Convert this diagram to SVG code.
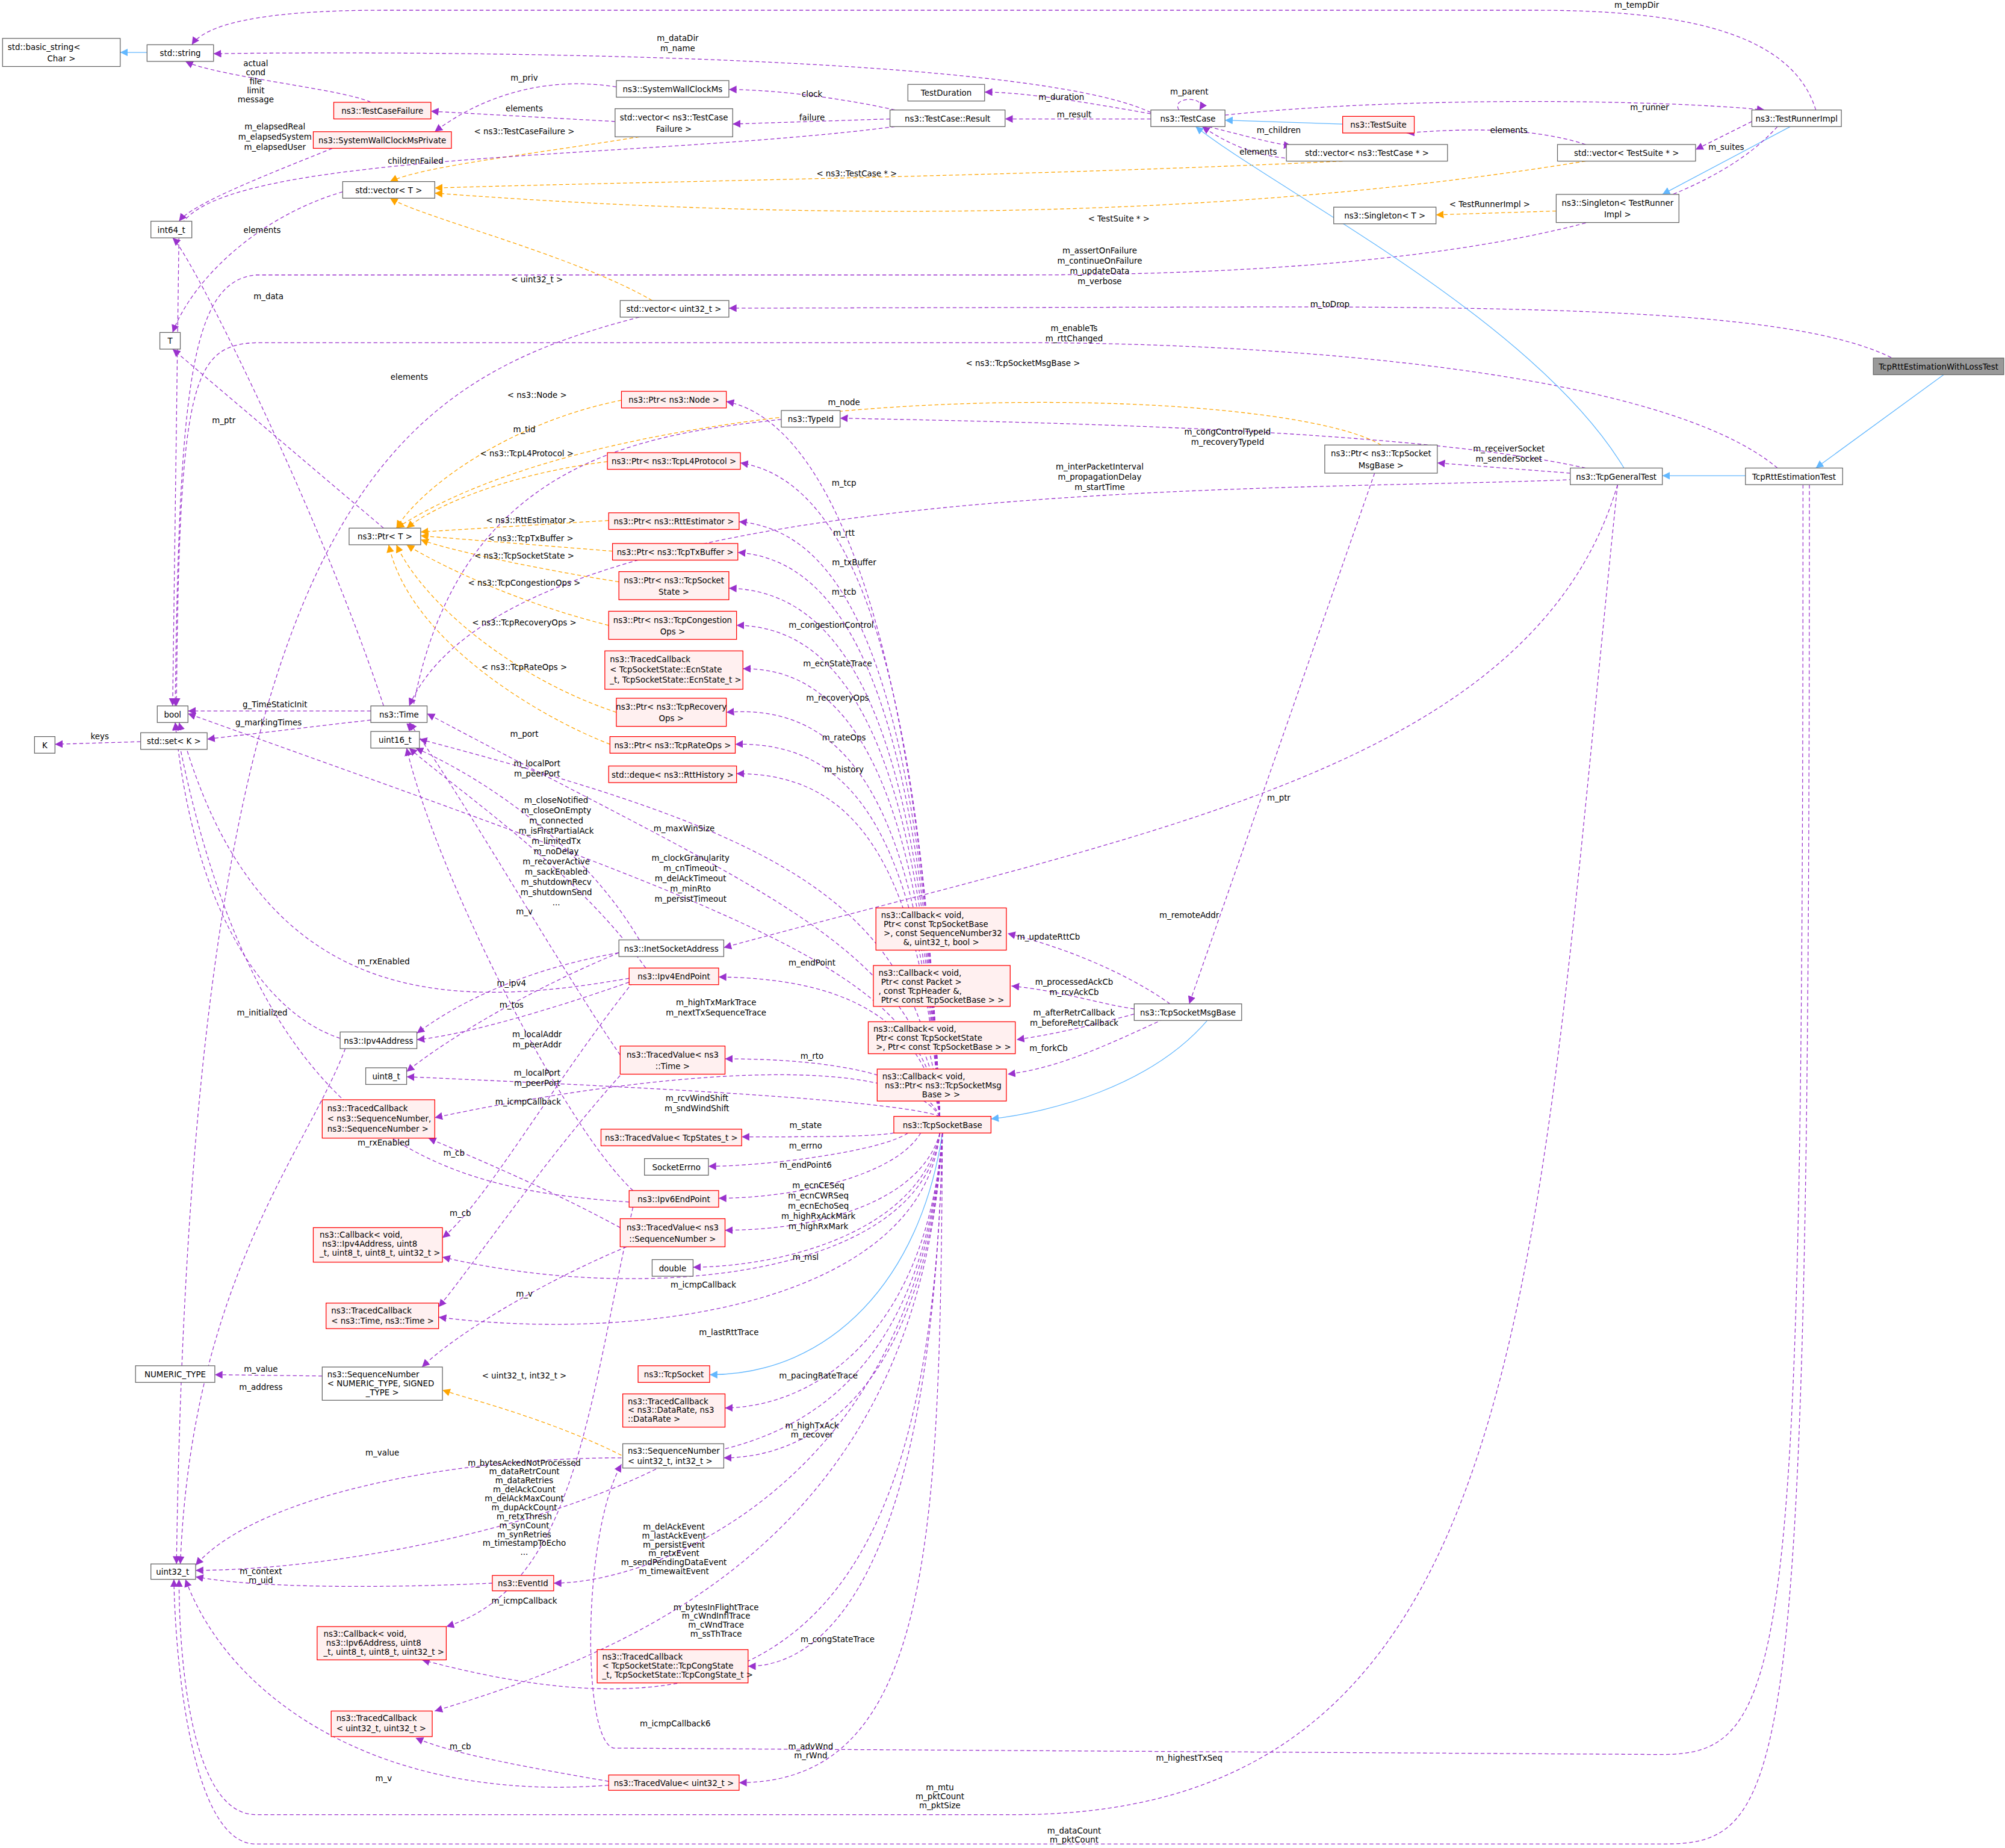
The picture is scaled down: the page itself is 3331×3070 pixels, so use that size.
<svg xmlns="http://www.w3.org/2000/svg" width="3331" height="3070" viewBox="0 0 3331 3070">
<style>
text{font-family:"DejaVu Sans","Liberation Sans",sans-serif;font-size:6.3px;fill:#000}
.n rect{fill:#fff;stroke:#666;stroke-width:0.6}
.r rect{fill:#fff0f0;stroke:#f00;stroke-width:0.6}
.g rect{fill:#999;stroke:#666;stroke-width:0.6}
.c{text-anchor:middle}
.e path{fill:none;stroke-width:0.6}
.p{stroke:#9a32cd;stroke-dasharray:3,2;marker-end:url(#ap)}
.o{stroke:#ffa500;stroke-dasharray:3,2;marker-end:url(#ao)}
.b{stroke:#63b8ff;marker-end:url(#ab)}
</style>
<defs>
<marker id="ap" markerUnits="userSpaceOnUse" markerWidth="8" markerHeight="8" refX="6" refY="3" orient="auto"><path d="M0,0L6,3L0,6z" fill="#9a32cd"/></marker>
<marker id="ao" markerUnits="userSpaceOnUse" markerWidth="8" markerHeight="8" refX="6" refY="3" orient="auto"><path d="M0,0L6,3L0,6z" fill="#ffa500"/></marker>
<marker id="ab" markerUnits="userSpaceOnUse" markerWidth="8" markerHeight="8" refX="6" refY="3" orient="auto"><path d="M0,0L6,3L0,6z" fill="#63b8ff"/></marker>
</defs>
<rect width="3331" height="3070" fill="#fff"/>
<g transform="scale(2.1244)">
<g id="edges" class="e">
<path class="b" d="M115,41L94,41"/>
<path class="p" d="M1420,86C1400,20 1300,8 1200,8L300,8C200,8 160,20 150,35"/>
<path class="p" d="M900,88C800,40 300,40 167,42"/>
<path class="p" d="M290,80C270,70 170,60 145,48"/>
<path class="p" d="M481,95L337,87"/>
<path class="p" d="M482,68C420,58 370,80 340,103"/>
<path class="p" d="M700,86C650,75 600,70 570,70"/>
<path class="p" d="M696,93L573,97"/>
<path class="p" d="M900,89C850,80 800,72 770,72"/>
<path class="p" d="M900,93L786,93"/>
<path class="p" d="M922,86C915,75 945,75 938,86"/>
<path class="p" d="M958,90C1100,75 1300,78 1380,86"/>
<path class="b" d="M1050,97L958,94"/>
<path class="p" d="M945,99C980,108 1000,113 1010,114"/>
<path class="p" d="M1010,124C980,122 960,112 940,99"/>
<path class="p" d="M1240,113C1200,100 1150,100 1100,104"/>
<path class="p" d="M1370,95L1326,117"/>
<path class="b" d="M1400,99L1300,152"/>
<path class="o" d="M1217,165L1123,168"/>
<path class="o" d="M500,107C420,120 330,130 305,142"/>
<path class="o" d="M1050,126C800,138 500,142 340,147"/>
<path class="o" d="M1240,126C1000,165 700,178 340,151"/>
<path class="o" d="M510,235C450,200 330,170 305,155"/>
<path class="p" d="M700,99C500,125 160,118 140,180L135,552"/>
<path class="p" d="M268,150C200,170 150,220 135,260"/>
<path class="p" d="M260,116C200,140 150,160 140,173"/>
<path class="p" d="M1390,99C1300,200 1000,215 800,215L200,215C150,220 140,300 137,552"/>
<path class="p" d="M1500,293C1450,250 1300,240 1000,240L570,241"/>
<path class="p" d="M500,248C300,300 150,400 138,1223"/>
<path class="b" d="M1520,293L1420,366"/>
<path class="p" d="M1390,366C1300,290 1000,268 800,268L200,268C150,270 140,300 138,552"/>
<path class="b" d="M1365,372L1300,372"/>
<path class="p" d="M1240,366C1100,335 800,330 657,327"/>
<path class="p" d="M1228,370L1124,362"/>
<path class="b" d="M1270,366C1200,250 1000,150 935,99"/>
<path class="p" d="M1230,375C1000,385 400,370 320,552"/>
<path class="p" d="M1265,379C1200,600 900,650 566,741"/>
<path class="p" d="M1265,379C1200,1000 1200,1415 800,1419L200,1419C150,1419 140,1300 140,1235"/>
<path class="p" d="M1410,379C1410,1300 1400,1372 1300,1372L480,1367C455,1362 455,1200 486,1145"/>
<path class="p" d="M1415,379C1415,1400 1400,1442 1300,1442L200,1442C150,1442 137,1300 136,1235"/>
<path class="o" d="M1080,348C1000,300 500,290 310,413"/>
<path class="p" d="M1075,370L930,785"/>
<path class="p" d="M300,413L135,273"/>
<path class="o" d="M486,313C400,330 330,380 310,413"/>
<path class="o" d="M475,361C400,370 340,395 318,413"/>
<path class="o" d="M476,407L329,416"/>
<path class="o" d="M479,431L329,419"/>
<path class="o" d="M484,455C420,445 350,430 329,422"/>
<path class="o" d="M476,489C400,470 340,440 318,426"/>
<path class="o" d="M482,557C400,530 330,470 310,426"/>
<path class="o" d="M477,582C420,560 320,500 304,426"/>
<path class="p" d="M611,328C500,340 350,360 320,572"/>
<path class="p" d="M300,552C250,400 150,200 135,186"/>
<path class="p" d="M290,556L147,556"/>
<path class="p" d="M290,563L162,578"/>
<path class="p" d="M110,580L43,582"/>
<path class="p" d="M735,873C720,500 650,330 568,314"/>
<path class="p" d="M735,873C720,500 660,375 579,362"/>
<path class="p" d="M735,873C720,520 660,415 578,408"/>
<path class="p" d="M735,873C720,540 660,438 577,432"/>
<path class="p" d="M735,873C720,560 660,462 570,460"/>
<path class="p" d="M735,873C720,580 660,490 576,489"/>
<path class="p" d="M735,873C720,600 660,522 581,523"/>
<path class="p" d="M735,873C720,620 660,550 568,557"/>
<path class="p" d="M735,873C720,640 660,580 575,582"/>
<path class="p" d="M735,873C720,660 660,605 576,605"/>
<path class="p" d="M735,873C720,700 600,650 328,578"/>
<path class="p" d="M735,873C720,740 600,700 334,558"/>
<path class="p" d="M735,873C720,760 600,720 147,558"/>
<path class="p" d="M500,735C450,650 360,600 325,585"/>
<path class="p" d="M505,757C450,680 360,620 320,585"/>
<path class="p" d="M485,825C440,760 360,620 320,565"/>
<path class="p" d="M492,765C350,790 200,790 140,565"/>
<path class="p" d="M484,745C400,760 350,790 326,808"/>
<path class="p" d="M484,745C400,780 340,820 318,838"/>
<path class="p" d="M492,768C430,790 360,810 326,813"/>
<path class="p" d="M266,812C200,790 150,700 137,565"/>
<path class="p" d="M270,820C240,900 150,1000 141,1223"/>
<path class="p" d="M495,931C440,880 340,680 318,585"/>
<path class="p" d="M495,768C430,850 380,940 346,968"/>
<path class="p" d="M735,873C720,790 650,765 562,764"/>
<path class="p" d="M735,873C700,820 500,840 340,874"/>
<path class="p" d="M735,873C720,840 650,828 567,828"/>
<path class="p" d="M735,873C700,860 500,850 318,842"/>
<path class="p" d="M699,886C680,889 640,889 580,889"/>
<path class="p" d="M710,886C690,900 600,912 554,912"/>
<path class="p" d="M720,886C700,920 620,937 562,937"/>
<path class="p" d="M492,940C350,930 200,900 137,565"/>
<path class="p" d="M485,960C430,930 370,905 335,890"/>
<path class="p" d="M495,830C430,900 370,990 343,1022"/>
<path class="p" d="M735,886C720,940 640,962 567,962"/>
<path class="p" d="M735,886C720,960 620,990 542,991"/>
<path class="p" d="M490,975C430,1000 360,1040 330,1069"/>
<path class="p" d="M735,886C720,1000 500,1020 346,983"/>
<path class="p" d="M735,886C720,1020 500,1050 343,1030"/>
<path class="b" d="M737,886C720,1000 650,1075 555,1075"/>
<path class="p" d="M737,886C725,1040 640,1100 567,1101"/>
<path class="p" d="M252,1076L168,1075"/>
<path class="o" d="M486,1138C430,1110 370,1095 346,1087"/>
<path class="p" d="M737,886C725,1080 640,1140 566,1140"/>
<path class="p" d="M486,1140C350,1140 200,1170 153,1224"/>
<path class="p" d="M737,886C720,1100 600,1130 530,1140C420,1200 250,1228 153,1228"/>
<path class="p" d="M385,1238C300,1242 200,1242 153,1233"/>
<path class="p" d="M737,886C720,1150 520,1238 433,1238"/>
<path class="p" d="M495,944C460,1100 450,1240 349,1272"/>
<path class="p" d="M737,886C720,1200 500,1290 340,1338"/>
<path class="p" d="M737,886C730,1220 650,1303 585,1303"/>
<path class="p" d="M737,886C730,1280 600,1370 330,1298"/>
<path class="p" d="M476,1393C400,1380 350,1370 325,1359"/>
<path class="p" d="M476,1396C300,1410 180,1330 145,1235"/>
<path class="p" d="M737,886C735,1200 730,1394 578,1394"/>
<path class="b" d="M945,797C900,850 820,870 775,875"/>
<path class="p" d="M915,785C880,760 830,740 788,730"/>
<path class="p" d="M887,789C860,785 830,775 791,771"/>
<path class="p" d="M887,793C860,800 830,808 795,813"/>
<path class="p" d="M910,797C870,815 830,835 788,840"/>
</g>
<g id="labels">
<text class="c" x="1280" y="6">m_tempDir</text>
<text class="c" x="530" y="32">m_dataDir</text><text class="c" x="530" y="40">m_name</text>
<text class="c" x="200" y="52">actual</text><text class="c" x="200" y="59">cond</text><text class="c" x="200" y="66">file</text><text class="c" x="200" y="73">limit</text><text class="c" x="200" y="80">message</text>
<text class="c" x="410" y="87">elements</text>
<text class="c" x="410" y="63">m_priv</text>
<text class="c" x="635" y="76">clock</text>
<text class="c" x="635" y="94">failure</text>
<text class="c" x="830" y="78">m_duration</text>
<text class="c" x="840" y="92">m_result</text>
<text class="c" x="930" y="74">m_parent</text>
<text class="c" x="1290" y="86">m_runner</text>
<text class="c" x="1000" y="104">m_children</text>
<text class="c" x="984" y="121">elements</text>
<text class="c" x="1180" y="104">elements</text>
<text class="c" x="1350" y="117">m_suites</text>
<text class="c" x="1165" y="162">&lt; TestRunnerImpl &gt;</text>
<text class="c" x="410" y="105">&lt; ns3::TestCaseFailure &gt;</text>
<text class="c" x="670" y="138">&lt; ns3::TestCase * &gt;</text>
<text class="c" x="875" y="173">&lt; TestSuite * &gt;</text>
<text class="c" x="420" y="221">&lt; uint32_t &gt;</text>
<text class="c" x="325" y="128">childrenFailed</text>
<text class="c" x="205" y="182">elements</text>
<text class="c" x="215" y="101">m_elapsedReal</text><text class="c" x="215" y="109">m_elapsedSystem</text><text class="c" x="215" y="117">m_elapsedUser</text>
<text class="c" x="860" y="198">m_assertOnFailure</text><text class="c" x="860" y="206">m_continueOnFailure</text><text class="c" x="860" y="214">m_updateData</text><text class="c" x="860" y="222">m_verbose</text>
<text class="c" x="1040" y="240">m_toDrop</text>
<text class="c" x="320" y="297">elements</text>
<text class="c" x="840" y="259">m_enableTs</text><text class="c" x="840" y="267">m_rttChanged</text>
<text class="c" x="960" y="340">m_congControlTypeId</text><text class="c" x="960" y="348">m_recoveryTypeId</text>
<text class="c" x="1180" y="353">m_receiverSocket</text><text class="c" x="1180" y="361">m_senderSocket</text>
<text class="c" x="860" y="367">m_interPacketInterval</text><text class="c" x="860" y="375">m_propagationDelay</text><text class="c" x="860" y="383">m_startTime</text>
<text class="c" x="930" y="718">m_remoteAddr</text>
<text class="c" x="735" y="1400">m_mtu</text><text class="c" x="735" y="1407">m_pktCount</text><text class="c" x="735" y="1414">m_pktSize</text>
<text class="c" x="930" y="1377">m_highestTxSeq</text>
<text class="c" x="840" y="1434">m_dataCount</text><text class="c" x="840" y="1441">m_pktCount</text>
<text class="c" x="800" y="286">&lt; ns3::TcpSocketMsgBase &gt;</text>
<text class="c" x="1000" y="626">m_ptr</text>
<text class="c" x="175" y="331">m_ptr</text>
<text class="c" x="420" y="311">&lt; ns3::Node &gt;</text>
<text class="c" x="412" y="357">&lt; ns3::TcpL4Protocol &gt;</text>
<text class="c" x="415" y="409">&lt; ns3::RttEstimator &gt;</text>
<text class="c" x="415" y="423">&lt; ns3::TcpTxBuffer &gt;</text>
<text class="c" x="410" y="437">&lt; ns3::TcpSocketState &gt;</text>
<text class="c" x="410" y="458">&lt; ns3::TcpCongestionOps &gt;</text>
<text class="c" x="410" y="489">&lt; ns3::TcpRecoveryOps &gt;</text>
<text class="c" x="410" y="524">&lt; ns3::TcpRateOps &gt;</text>
<text class="c" x="410" y="338">m_tid</text>
<text class="c" x="210" y="234">m_data</text>
<text class="c" x="215" y="553">g_TimeStaticInit</text>
<text class="c" x="210" y="567">g_markingTimes</text>
<text class="c" x="78" y="578">keys</text>
<text class="c" x="660" y="317">m_node</text>
<text class="c" x="660" y="380">m_tcp</text>
<text class="c" x="660" y="419">m_rtt</text>
<text class="c" x="668" y="442">m_txBuffer</text>
<text class="c" x="660" y="465">m_tcb</text>
<text class="c" x="650" y="491">m_congestionControl</text>
<text class="c" x="655" y="521">m_ecnStateTrace</text>
<text class="c" x="655" y="548">m_recoveryOps</text>
<text class="c" x="660" y="579">m_rateOps</text>
<text class="c" x="660" y="604">m_history</text>
<text class="c" x="535" y="650">m_maxWinSize</text>
<text class="c" x="410" y="576">m_port</text>
<text class="c" x="420" y="599">m_localPort</text><text class="c" x="420" y="607">m_peerPort</text>
<text class="c" x="540" y="673">m_clockGranularity</text><text class="c" x="540" y="681">m_cnTimeout</text><text class="c" x="540" y="689">m_delAckTimeout</text><text class="c" x="540" y="697">m_minRto</text><text class="c" x="540" y="705">m_persistTimeout</text>
<text class="c" x="435" y="628">m_closeNotified</text><text class="c" x="435" y="636">m_closeOnEmpty</text><text class="c" x="435" y="644">m_connected</text><text class="c" x="435" y="652">m_isFirstPartialAck</text><text class="c" x="435" y="660">m_limitedTx</text><text class="c" x="435" y="668">m_noDelay</text><text class="c" x="435" y="676">m_recoverActive</text><text class="c" x="435" y="684">m_sackEnabled</text><text class="c" x="435" y="692">m_shutdownRecv</text><text class="c" x="435" y="700">m_shutdownSend</text><text class="c" x="435" y="708">...</text>
<text class="c" x="410" y="715">m_v</text>
<text class="c" x="300" y="754">m_rxEnabled</text>
<text class="c" x="400" y="771">m_ipv4</text>
<text class="c" x="400" y="788">m_tos</text>
<text class="c" x="420" y="811">m_localAddr</text><text class="c" x="420" y="819">m_peerAddr</text>
<text class="c" x="205" y="794">m_initialized</text>
<text class="c" x="204" y="1087">m_address</text>
<text class="c" x="420" y="841">m_localPort</text><text class="c" x="420" y="849">m_peerPort</text>
<text class="c" x="413" y="864">m_icmpCallback</text>
<text class="c" x="635" y="755">m_endPoint</text>
<text class="c" x="560" y="786">m_highTxMarkTrace</text><text class="c" x="560" y="794">m_nextTxSequenceTrace</text>
<text class="c" x="635" y="828">m_rto</text>
<text class="c" x="545" y="861">m_rcvWindShift</text><text class="c" x="545" y="869">m_sndWindShift</text>
<text class="c" x="630" y="882">m_state</text>
<text class="c" x="630" y="898">m_errno</text>
<text class="c" x="630" y="913">m_endPoint6</text>
<text class="c" x="300" y="896">m_rxEnabled</text>
<text class="c" x="355" y="904">m_cb</text>
<text class="c" x="360" y="951">m_cb</text>
<text class="c" x="640" y="929">m_ecnCESeq</text><text class="c" x="640" y="937">m_ecnCWRSeq</text><text class="c" x="640" y="945">m_ecnEchoSeq</text><text class="c" x="640" y="953">m_highRxAckMark</text><text class="c" x="640" y="961">m_highRxMark</text>
<text class="c" x="630" y="985">m_msl</text>
<text class="c" x="410" y="1014">m_v</text>
<text class="c" x="550" y="1007">m_icmpCallback</text>
<text class="c" x="570" y="1044">m_lastRttTrace</text>
<text class="c" x="640" y="1078">m_pacingRateTrace</text>
<text class="c" x="204" y="1073">m_value</text>
<text class="c" x="410" y="1078">&lt; uint32_t, int32_t &gt;</text>
<text class="c" x="635" y="1117">m_highTxAck</text><text class="c" x="635" y="1124">m_recover</text>
<text class="c" x="299" y="1138">m_value</text>
<text class="c" x="410" y="1146">m_bytesAckedNotProcessed</text><text class="c" x="410" y="1153">m_dataRetrCount</text><text class="c" x="410" y="1160">m_dataRetries</text><text class="c" x="410" y="1167">m_delAckCount</text><text class="c" x="410" y="1174">m_delAckMaxCount</text><text class="c" x="410" y="1181">m_dupAckCount</text><text class="c" x="410" y="1188">m_retxThresh</text><text class="c" x="410" y="1195">m_synCount</text><text class="c" x="410" y="1202">m_synRetries</text><text class="c" x="410" y="1209">m_timestampToEcho</text><text class="c" x="410" y="1216">...</text>
<text class="c" x="204" y="1231">m_context</text><text class="c" x="204" y="1238">m_uid</text>
<text class="c" x="527" y="1196">m_delAckEvent</text><text class="c" x="527" y="1203">m_lastAckEvent</text><text class="c" x="527" y="1210">m_persistEvent</text><text class="c" x="527" y="1217">m_retxEvent</text><text class="c" x="527" y="1224">m_sendPendingDataEvent</text><text class="c" x="527" y="1231">m_timewaitEvent</text>
<text class="c" x="410" y="1254">m_icmpCallback</text>
<text class="c" x="560" y="1259">m_bytesInFlightTrace</text><text class="c" x="560" y="1266">m_cWndInflTrace</text><text class="c" x="560" y="1273">m_cWndTrace</text><text class="c" x="560" y="1280">m_ssThTrace</text>
<text class="c" x="655" y="1284">m_congStateTrace</text>
<text class="c" x="528" y="1350">m_icmpCallback6</text>
<text class="c" x="360" y="1368">m_cb</text>
<text class="c" x="300" y="1393">m_v</text>
<text class="c" x="634" y="1368">m_advWnd</text><text class="c" x="634" y="1375">m_rWnd</text>
<text class="c" x="820" y="735">m_updateRttCb</text>
<text class="c" x="840" y="770">m_processedAckCb</text><text class="c" x="840" y="778">m_rcvAckCb</text>
<text class="c" x="840" y="794">m_afterRetrCallback</text><text class="c" x="840" y="802">m_beforeRetrCallback</text>
<text class="c" x="820" y="822">m_forkCb</text>
</g>
<g id="n1" class="n"><rect x="2" y="30" width="92" height="22"/><text x="6" y="39">std::basic_string&lt;</text><text class="c" x="48" y="48">Char &gt;</text></g>
<g id="n2" class="n"><rect x="115" y="35" width="52" height="13"/><text class="c" x="141" y="44">std::string</text></g>
<g id="n3" class="n"><rect x="710" y="66" width="60" height="13"/><text class="c" x="740" y="75">TestDuration</text></g>
<g id="n4" class="n"><rect x="482" y="63" width="88" height="13"/><text class="c" x="526" y="72">ns3::SystemWallClockMs</text></g>
<g id="n5" class="r"><rect x="261" y="80" width="76" height="13"/><text class="c" x="299" y="89">ns3::TestCaseFailure</text></g>
<g id="n6" class="n"><rect x="481" y="85" width="92" height="22"/><text class="c" x="527" y="94">std::vector&lt; ns3::TestCase</text><text class="c" x="527" y="103">Failure &gt;</text></g>
<g id="n7" class="n"><rect x="696" y="86" width="90" height="13"/><text class="c" x="741" y="95">ns3::TestCase::Result</text></g>
<g id="n8" class="n"><rect x="900" y="86" width="58" height="13"/><text class="c" x="929" y="95">ns3::TestCase</text></g>
<g id="n9" class="r"><rect x="1050" y="91" width="56" height="13"/><text class="c" x="1078" y="100">ns3::TestSuite</text></g>
<g id="n10" class="n"><rect x="1370" y="86" width="70" height="13"/><text class="c" x="1405" y="95">ns3::TestRunnerImpl</text></g>
<g id="n11" class="r"><rect x="245" y="103" width="108" height="13"/><text class="c" x="299" y="112">ns3::SystemWallClockMsPrivate</text></g>
<g id="n12" class="n"><rect x="1006" y="113" width="126" height="13"/><text class="c" x="1069" y="122">std::vector&lt; ns3::TestCase * &gt;</text></g>
<g id="n13" class="n"><rect x="1218" y="113" width="108" height="13"/><text class="c" x="1272" y="122">std::vector&lt; TestSuite * &gt;</text></g>
<g id="n14" class="n"><rect x="118" y="173" width="32" height="13"/><text class="c" x="134" y="182">int64_t</text></g>
<g id="n15" class="n"><rect x="268" y="142" width="72" height="13"/><text class="c" x="304" y="151">std::vector&lt; T &gt;</text></g>
<g id="n16" class="n"><rect x="1043" y="162" width="80" height="13"/><text class="c" x="1083" y="171">ns3::Singleton&lt; T &gt;</text></g>
<g id="n17" class="n"><rect x="1217" y="152" width="96" height="22"/><text class="c" x="1265" y="161">ns3::Singleton&lt; TestRunner</text><text class="c" x="1265" y="170">Impl &gt;</text></g>
<g id="n18" class="n"><rect x="485" y="235" width="85" height="13"/><text class="c" x="527" y="244">std::vector&lt; uint32_t &gt;</text></g>
<g id="n19" class="n"><rect x="125" y="260" width="16" height="13"/><text class="c" x="133" y="269">T</text></g>
<g id="n20" class="g"><rect x="1465" y="280" width="102" height="13"/><text class="c" x="1516" y="289">TcpRttEstimationWithLossTest</text></g>
<g id="n21" class="r"><rect x="486" y="306" width="82" height="13"/><text class="c" x="527" y="315">ns3::Ptr&lt; ns3::Node &gt;</text></g>
<g id="n22" class="n"><rect x="611" y="321" width="46" height="13"/><text class="c" x="634" y="330">ns3::TypeId</text></g>
<g id="n23" class="n"><rect x="1036" y="348" width="88" height="22"/><text class="c" x="1080" y="357">ns3::Ptr&lt; ns3::TcpSocket</text><text class="c" x="1080" y="366">MsgBase &gt;</text></g>
<g id="n24" class="n"><rect x="1228" y="366" width="72" height="13"/><text class="c" x="1264" y="375">ns3::TcpGeneralTest</text></g>
<g id="n25" class="n"><rect x="1365" y="366" width="76" height="13"/><text class="c" x="1403" y="375">TcpRttEstimationTest</text></g>
<g id="n26" class="r"><rect x="475" y="354" width="104" height="13"/><text class="c" x="527" y="363">ns3::Ptr&lt; ns3::TcpL4Protocol &gt;</text></g>
<g id="n27" class="n"><rect x="273" y="413" width="56" height="13"/><text class="c" x="301" y="422">ns3::Ptr&lt; T &gt;</text></g>
<g id="n28" class="r"><rect x="476" y="401" width="102" height="13"/><text class="c" x="527" y="410">ns3::Ptr&lt; ns3::RttEstimator &gt;</text></g>
<g id="n29" class="r"><rect x="479" y="425" width="98" height="13"/><text class="c" x="528" y="434">ns3::Ptr&lt; ns3::TcpTxBuffer &gt;</text></g>
<g id="n30" class="r"><rect x="484" y="447" width="86" height="22"/><text class="c" x="527" y="456">ns3::Ptr&lt; ns3::TcpSocket</text><text class="c" x="527" y="465">State &gt;</text></g>
<g id="n31" class="r"><rect x="476" y="478" width="100" height="22"/><text class="c" x="526" y="487">ns3::Ptr&lt; ns3::TcpCongestion</text><text class="c" x="526" y="496">Ops &gt;</text></g>
<g id="n32" class="r"><rect x="473" y="509" width="108" height="30"/><text x="477" y="518">ns3::TracedCallback</text><text x="477" y="526">&lt; TcpSocketState::EcnState</text><text x="477" y="534">_t, TcpSocketState::EcnState_t &gt;</text></g>
<g id="n33" class="r"><rect x="482" y="546" width="86" height="22"/><text class="c" x="525" y="555">ns3::Ptr&lt; ns3::TcpRecovery</text><text class="c" x="525" y="564">Ops &gt;</text></g>
<g id="n34" class="r"><rect x="477" y="576" width="98" height="13"/><text class="c" x="526" y="585">ns3::Ptr&lt; ns3::TcpRateOps &gt;</text></g>
<g id="n35" class="r"><rect x="476" y="599" width="100" height="13"/><text class="c" x="526" y="608">std::deque&lt; ns3::RttHistory &gt;</text></g>
<g id="n36" class="n"><rect x="123" y="552" width="24" height="13"/><text class="c" x="135" y="561">bool</text></g>
<g id="n37" class="n"><rect x="290" y="552" width="44" height="13"/><text class="c" x="312" y="561">ns3::Time</text></g>
<g id="n38" class="n"><rect x="290" y="572" width="38" height="13"/><text class="c" x="309" y="581">uint16_t</text></g>
<g id="n39" class="n"><rect x="27" y="576" width="16" height="13"/><text class="c" x="35" y="585">K</text></g>
<g id="n40" class="n"><rect x="110" y="573" width="52" height="13"/><text class="c" x="136" y="582">std::set&lt; K &gt;</text></g>
<g id="n41" class="r"><rect x="685" y="710" width="102" height="33"/><text x="689" y="718">ns3::Callback&lt; void,</text><text x="691" y="725">Ptr&lt; const TcpSocketBase</text><text x="691" y="732">&gt;, const SequenceNumber32</text><text class="c" x="736" y="739">&amp;, uint32_t, bool &gt;</text></g>
<g id="n42" class="r"><rect x="683" y="755" width="107" height="32"/><text x="687" y="763">ns3::Callback&lt; void,</text><text x="689" y="770">Ptr&lt; const Packet &gt;</text><text x="687" y="777">, const TcpHeader &amp;,</text><text x="689" y="784">Ptr&lt; const TcpSocketBase &gt; &gt;</text></g>
<g id="n43" class="r"><rect x="679" y="799" width="115" height="25"/><text x="683" y="807">ns3::Callback&lt; void,</text><text x="685" y="814">Ptr&lt; const TcpSocketState</text><text x="685" y="821">&gt;, Ptr&lt; const TcpSocketBase &gt; &gt;</text></g>
<g id="n44" class="r"><rect x="686" y="836" width="101" height="25"/><text x="690" y="844">ns3::Callback&lt; void,</text><text x="692" y="851">ns3::Ptr&lt; ns3::TcpSocketMsg</text><text class="c" x="736" y="858">Base &gt; &gt;</text></g>
<g id="n45" class="n"><rect x="887" y="785" width="84" height="13"/><text class="c" x="929" y="794">ns3::TcpSocketMsgBase</text></g>
<g id="n46" class="n"><rect x="484" y="735" width="82" height="13"/><text class="c" x="525" y="744">ns3::InetSocketAddress</text></g>
<g id="n47" class="r"><rect x="492" y="757" width="70" height="13"/><text class="c" x="527" y="766">ns3::Ipv4EndPoint</text></g>
<g id="n48" class="n"><rect x="266" y="807" width="60" height="13"/><text class="c" x="296" y="816">ns3::Ipv4Address</text></g>
<g id="n49" class="r"><rect x="485" y="818" width="82" height="22"/><text class="c" x="526" y="827">ns3::TracedValue&lt; ns3</text><text class="c" x="526" y="836">::Time &gt;</text></g>
<g id="n50" class="n"><rect x="286" y="835" width="32" height="13"/><text class="c" x="302" y="844">uint8_t</text></g>
<g id="n51" class="r"><rect x="252" y="860" width="88" height="30"/><text x="256" y="869">ns3::TracedCallback</text><text x="256" y="877">&lt; ns3::SequenceNumber,</text><text x="256" y="885">ns3::SequenceNumber &gt;</text></g>
<g id="n52" class="r"><rect x="699" y="873" width="76" height="13"/><text class="c" x="737" y="882">ns3::TcpSocketBase</text></g>
<g id="n53" class="r"><rect x="470" y="883" width="110" height="13"/><text class="c" x="525" y="892">ns3::TracedValue&lt; TcpStates_t &gt;</text></g>
<g id="n54" class="n"><rect x="504" y="906" width="50" height="13"/><text class="c" x="529" y="915">SocketErrno</text></g>
<g id="n55" class="r"><rect x="492" y="931" width="70" height="13"/><text class="c" x="527" y="940">ns3::Ipv6EndPoint</text></g>
<g id="n56" class="r"><rect x="485" y="953" width="82" height="22"/><text class="c" x="526" y="962">ns3::TracedValue&lt; ns3</text><text class="c" x="526" y="971">::SequenceNumber &gt;</text></g>
<g id="n57" class="n"><rect x="510" y="985" width="32" height="13"/><text class="c" x="526" y="994">double</text></g>
<g id="n58" class="r"><rect x="245" y="960" width="101" height="27"/><text x="250" y="968">ns3::Callback&lt; void,</text><text x="252" y="975">ns3::Ipv4Address, uint8</text><text x="250" y="982">_t, uint8_t, uint8_t, uint32_t &gt;</text></g>
<g id="n59" class="r"><rect x="255" y="1019" width="88" height="20"/><text x="259" y="1027">ns3::TracedCallback</text><text x="259" y="1035">&lt; ns3::Time, ns3::Time &gt;</text></g>
<g id="n60" class="r"><rect x="499" y="1068" width="56" height="13"/><text class="c" x="527" y="1077">ns3::TcpSocket</text></g>
<g id="n61" class="n"><rect x="106" y="1068" width="62" height="13"/><text class="c" x="137" y="1077">NUMERIC_TYPE</text></g>
<g id="n62" class="n"><rect x="252" y="1069" width="94" height="26"/><text x="256" y="1077">ns3::SequenceNumber</text><text x="256" y="1084">&lt; NUMERIC_TYPE, SIGNED</text><text class="c" x="299" y="1091">_TYPE &gt;</text></g>
<g id="n63" class="r"><rect x="487" y="1090" width="80" height="26"/><text x="491" y="1098">ns3::TracedCallback</text><text x="491" y="1105">&lt; ns3::DataRate, ns3</text><text x="491" y="1112">::DataRate &gt;</text></g>
<g id="n64" class="n"><rect x="487" y="1129" width="79" height="19"/><text x="491" y="1137">ns3::SequenceNumber</text><text x="491" y="1145">&lt; uint32_t, int32_t &gt;</text></g>
<g id="n65" class="n"><rect x="118" y="1223" width="35" height="12"/><text class="c" x="135" y="1231.5">uint32_t</text></g>
<g id="n66" class="r"><rect x="385" y="1232" width="48" height="12"/><text class="c" x="409" y="1240.5">ns3::EventId</text></g>
<g id="n67" class="r"><rect x="248" y="1272" width="101" height="26"/><text x="253" y="1280">ns3::Callback&lt; void,</text><text x="255" y="1287">ns3::Ipv6Address, uint8</text><text x="253" y="1294">_t, uint8_t, uint8_t, uint32_t &gt;</text></g>
<g id="n68" class="r"><rect x="467" y="1290" width="118" height="26"/><text x="471" y="1298">ns3::TracedCallback</text><text x="471" y="1305">&lt; TcpSocketState::TcpCongState</text><text x="471" y="1312">_t, TcpSocketState::TcpCongState_t &gt;</text></g>
<g id="n69" class="r"><rect x="259" y="1338" width="79" height="20"/><text x="263" y="1346">ns3::TracedCallback</text><text x="263" y="1354">&lt; uint32_t, uint32_t &gt;</text></g>
<g id="n70" class="r"><rect x="476" y="1388" width="102" height="12"/><text class="c" x="527" y="1396.5">ns3::TracedValue&lt; uint32_t &gt;</text></g>
</g>
</svg>
